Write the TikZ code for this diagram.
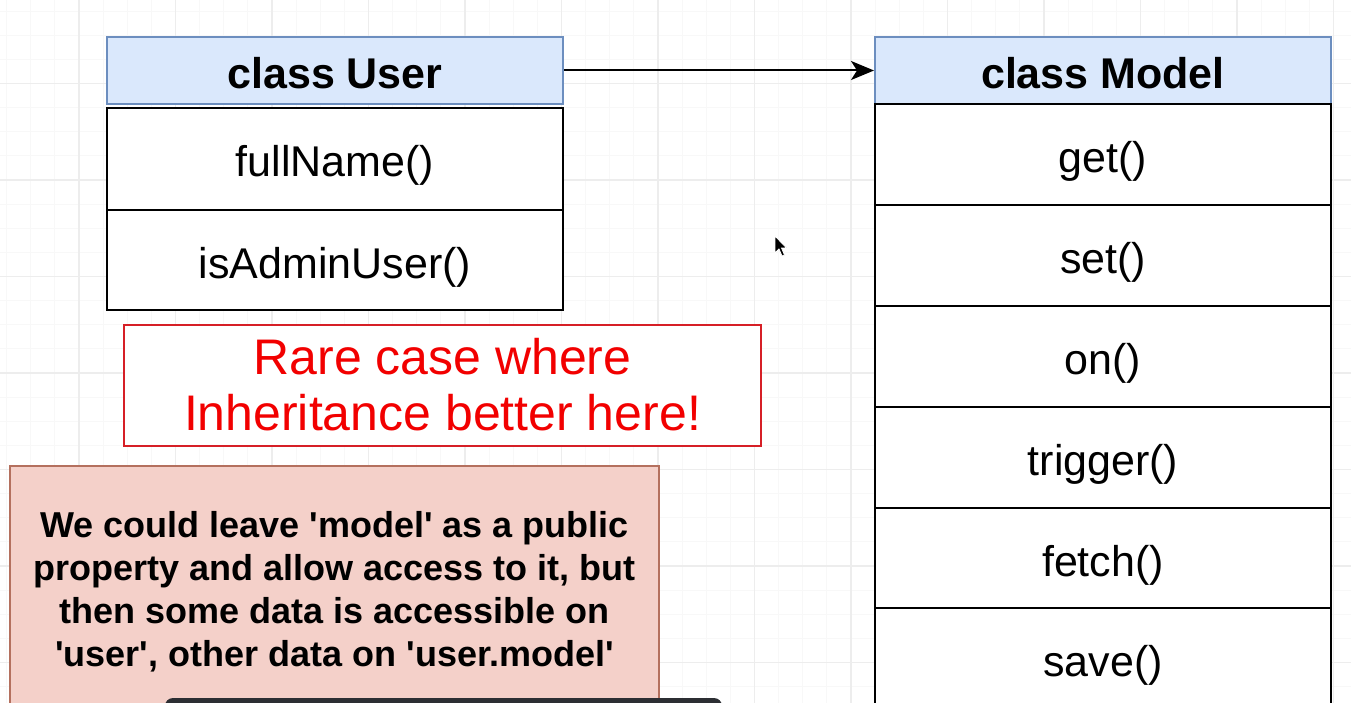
\documentclass[tikz,border=0pt]{standalone}
\usepackage{fontspec}
\setmainfont{Liberation Sans}
\usetikzlibrary{arrows.meta}
\definecolor{hdrfill}{HTML}{DAE8FC}
\definecolor{hdrline}{HTML}{6C8EBF}
\definecolor{notefill}{HTML}{F4D0C9}
\definecolor{noteline}{HTML}{B4705E}
\definecolor{redtxt}{HTML}{F20000}
\definecolor{redbox}{HTML}{D61F26}
\definecolor{darkbar}{HTML}{2C2E33}
\definecolor{gridmaj}{HTML}{EDEDED}
\definecolor{gridmin}{HTML}{F8F8F8}
\newcommand{\sq}{\textquotesingle}
\tikzset{
  hdr/.style={draw=hdrline, fill=hdrfill, line width=2pt, minimum width=456pt, minimum height=67pt, inner sep=0pt,
    text height=37pt, text depth=0pt, font=\fontsize{43}{50}\selectfont\bfseries},
  rowbox/.style={draw=black, fill=white, line width=2.5pt, minimum width=456pt, inner sep=0pt,
    text height=36pt, text depth=0pt, font=\fontsize{43}{50}\selectfont},
  rednote/.style={draw=redbox, fill=white, line width=2pt, minimum width=637pt, minimum height=121pt, inner sep=0pt},
  redtext/.style={text=redtxt, align=center, inner sep=0pt, font=\fontsize{50}{56}\selectfont},
  pinknote/.style={draw=noteline, fill=notefill, line width=2pt, minimum width=649pt, minimum height=260pt, inner sep=0pt},
  notetext/.style={align=center, inner sep=0pt, font=\fontsize{36}{43}\selectfont\bfseries},
  conn/.style={line width=2pt, -{Stealth[length=23pt,width=19pt,inset=6pt]}}
}
\begin{document}
\begin{tikzpicture}[x=1pt,y=-1pt]
\useasboundingbox (0,0) rectangle (1351,703);
\clip (0,0) rectangle (1351,703);
\fill[white] (0,0) rectangle (1351,703);
% grid
\foreach \i in {0,...,60} {
  \draw[gridmin, line width=1pt] ({-17.5+24.125*\i},0) -- ({-17.5+24.125*\i},703);
  \draw[gridmin, line width=1pt] (0,{-13+24.125*\i}) -- (1351,{-13+24.125*\i});
}
\foreach \i in {0,...,15} {
  \draw[gridmaj, line width=1.5pt] ({-17.5+96.5*\i},0) -- ({-17.5+96.5*\i},703);
  \draw[gridmaj, line width=1.5pt] (0,{-13+96.5*\i}) -- (1351,{-13+96.5*\i});
}
% class User
\node[hdr] (userhdr) at (335,70.5) {class User};
\node[rowbox, minimum height=102pt] (fullname) at (335,159) {fullName()};
\node[rowbox, minimum height=100pt] (isadmin) at (335,260) {isAdminUser()};
% class Model
\node[hdr] (modelhdr) at (1103,70.5) {class Model};
\node[rowbox, minimum height=101pt] (get) at (1103,154.5) {get()};
\node[rowbox, minimum height=101pt] (set) at (1103,255.5) {set()};
\node[rowbox, minimum height=101pt] (on) at (1103,356.5) {on()};
\node[rowbox, minimum height=101pt] (trigger) at (1103,457.5) {trigger()};
\node[rowbox, minimum height=100pt] (fetch) at (1103,558) {fetch()};
\node[rowbox, minimum height=101pt] (save) at (1103,658.5) {save()};
% arrow
\draw[conn] (userhdr.east) -- (modelhdr.west);
% red note
\node[rednote] (rarebox) at (442.5,385.5) {};
\node[redtext] (raretext) at (442.5,384.5) {Rare case where\\Inheritance better here!};
% pink note
\node[pinknote] (note) at (334.5,596) {};
\node[notetext] (notetxt) at (334.5,592) {We could leave \sq model\sq{} as a public\\property and allow access to it, but\\then some data is accessible on\\\sq user\sq, other data on \sq user.model\sq};
% dark bar at bottom
\fill[darkbar, rounded corners=8pt] (165,698) rectangle (722,730);
% mouse cursor
\filldraw[fill=black, draw=white, line width=0.8pt] (775,236) -- (775,253) -- (779,249) -- (782,256) -- (784.5,255) -- (781.5,248) -- (786.5,248) -- cycle;
\end{tikzpicture}
\end{document}
